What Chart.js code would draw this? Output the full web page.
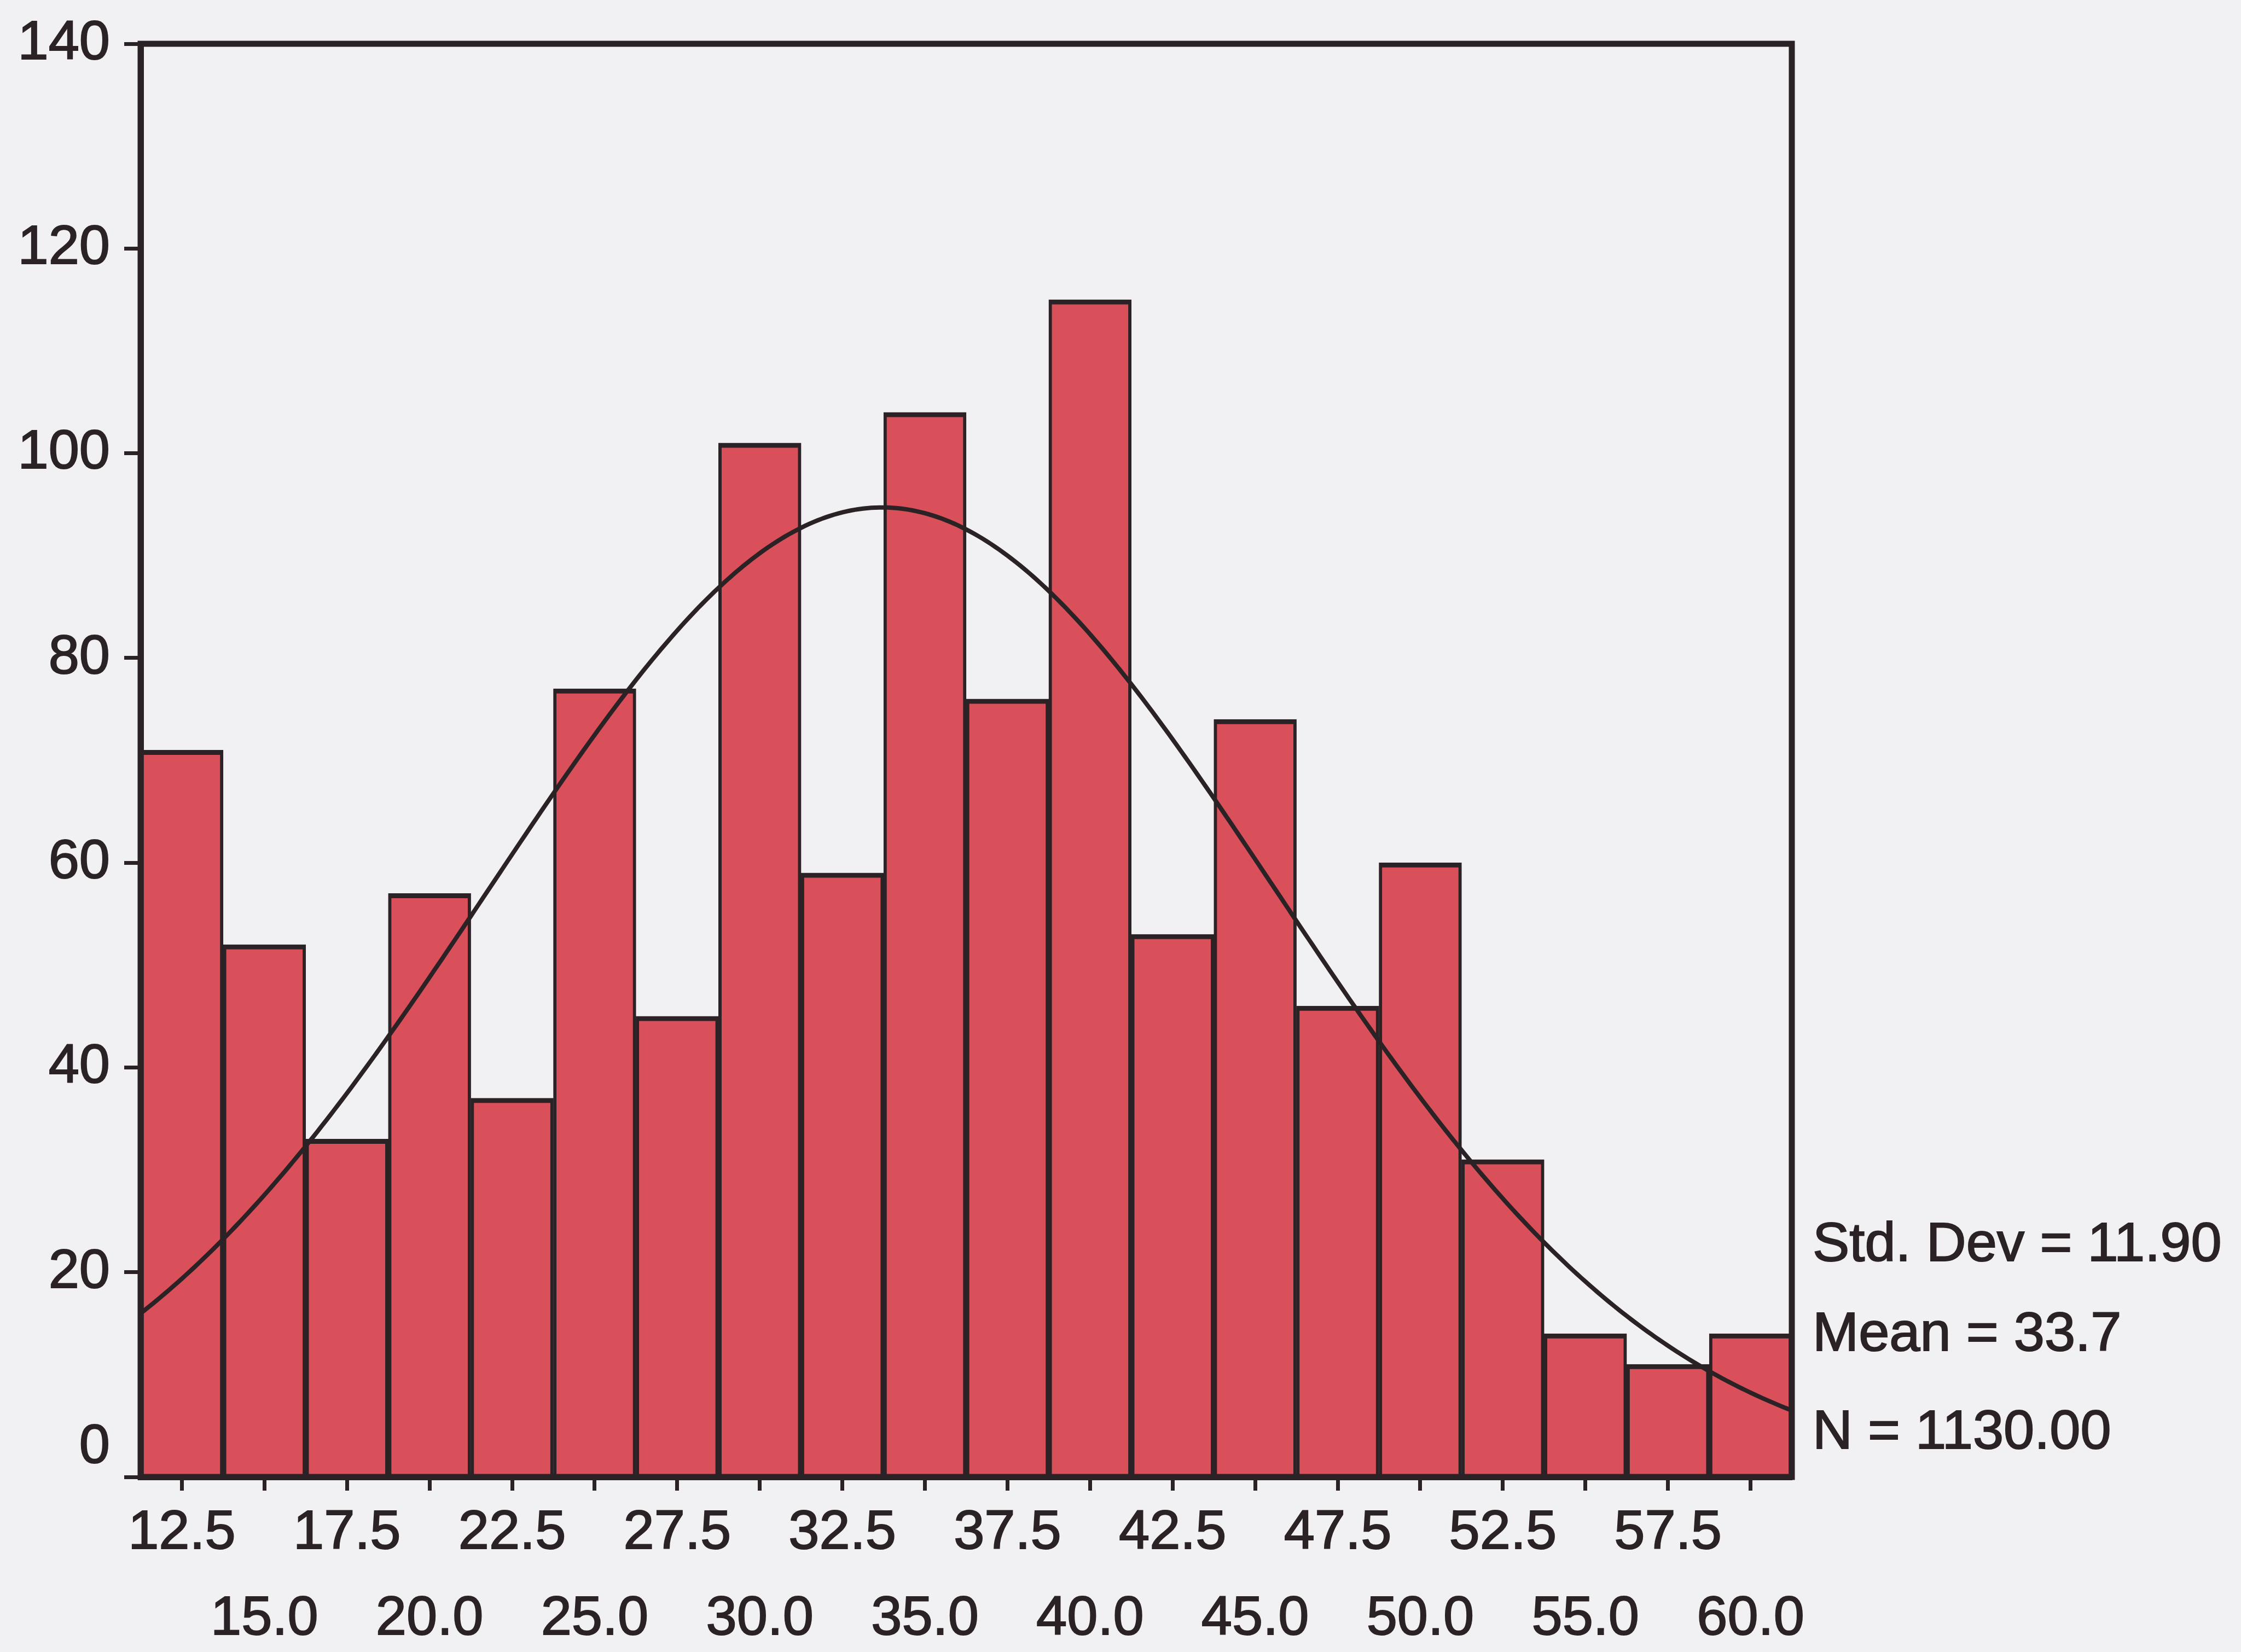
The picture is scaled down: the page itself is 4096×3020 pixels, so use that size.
<!DOCTYPE html>
<html>
<head>
<meta charset="utf-8">
<title>Histogram</title>
<script src="https://cdn.jsdelivr.net/npm/chart.js@4/dist/chart.umd.min.js"></script>
<style>
  html, body { margin: 0; padding: 0; background: #f1f1f3; }
  #wrap { width: 4096px; height: 3020px; }
  canvas { display: block; }
</style>
</head>
<body>
<div id="wrap"><canvas id="hist" width="4096" height="3020"></canvas></div>
<script>
// Bin midpoints (bin width 2.5) and the count in each bin
const binCenters = ['12.5', '15.0', '17.5', '20.0', '22.5', '25.0', '27.5', '30.0', '32.5', '35.0',
                    '37.5', '40.0', '42.5', '45.0', '47.5', '50.0', '52.5', '55.0', '57.5', '60.0'];
const counts = [71, 52, 33, 57, 37, 77, 45, 101, 59, 104, 76, 115, 53, 74, 46, 60, 31, 14, 11, 14];

// Summary statistics printed beside the plot
const stdDev = 11.90;
const mean = 33.7;
const nCases = 1130;
const binWidth = 2.5;

// Count axis
const yMin = 0;
const yMax = 140;
const yStep = 20;

// Value range covered by the bins
const xLow = parseFloat(binCenters[0]) - binWidth / 2;
const xHigh = parseFloat(binCenters[binCenters.length - 1]) + binWidth / 2;

// Fitted normal curve, scaled to counts per bin
const normalCurve = [];
for (let x = xLow; x <= xHigh + 1e-9; x += 0.125) {
  const z = (x - mean) / stdDev;
  const y = nCases * binWidth / (stdDev * Math.sqrt(2 * Math.PI)) * Math.exp(-0.5 * z * z);
  normalCurve.push({ x: x, y: y });
}

// Alternate bin labels between two rows
const staggeredLabels = binCenters.map((c, i) => (i % 2 === 0 ? [c, ''] : ['', c]));

const INK = '#2b2225';
const BAR_FILL = '#d9505b';
const PAGE = '#f1f1f3';
const FONT = '"Liberation Sans", Arial, sans-serif';
const FONT_SIZE = 101;
const FRAME_W = 11;

const pageBackground = {
  id: 'pageBackground',
  beforeDraw(chart) {
    const ctx = chart.ctx;
    ctx.save();
    ctx.fillStyle = PAGE;
    ctx.fillRect(0, 0, chart.width, chart.height);
    ctx.restore();
  }
};

const plotFrame = {
  id: 'plotFrame',
  afterDatasetsDraw(chart) {
    const { ctx, chartArea: a } = chart;
    ctx.save();
    ctx.strokeStyle = INK;
    ctx.lineWidth = FRAME_W;
    ctx.lineJoin = 'miter';
    ctx.strokeRect(a.left, a.top, a.right - a.left, a.bottom - a.top);
    ctx.restore();
  }
};

const statsBlock = {
  id: 'statsBlock',
  afterDraw(chart) {
    const { ctx, chartArea: a } = chart;
    const lines = [
      { text: 'Std. Dev = ' + stdDev.toFixed(2), dy: -395 },
      { text: 'Mean = ' + mean.toFixed(1), dy: -231 },
      { text: 'N = ' + nCases.toFixed(2), dy: -52 }
    ];
    ctx.save();
    ctx.fillStyle = INK;
    ctx.strokeStyle = INK;
    ctx.lineWidth = 2;
    ctx.font = FONT_SIZE + 'px ' + FONT;
    ctx.textAlign = 'left';
    ctx.textBaseline = 'alphabetic';
    lines.forEach(l => {
      ctx.fillText(l.text, a.right + 38, a.bottom + l.dy);
      ctx.strokeText(l.text, a.right + 38, a.bottom + l.dy);
    });
    ctx.restore();
  }
};

Chart.defaults.font.family = FONT;
Chart.defaults.color = INK;

new Chart(document.getElementById('hist'), {
  type: 'bar',
  data: {
    labels: staggeredLabels,
    datasets: [
      {
        type: 'bar',
        data: counts,
        xAxisID: 'x',
        yAxisID: 'y',
        backgroundColor: BAR_FILL,
        borderColor: INK,
        borderWidth: { top: 9, left: 6, right: 6, bottom: 0 },
        borderSkipped: 'start',
        barPercentage: 1,
        categoryPercentage: 1,
        grouped: false,
        order: 1
      },
      {
        type: 'line',
        data: normalCurve,
        xAxisID: 'xc',
        yAxisID: 'y',
        borderColor: INK,
        borderWidth: 8,
        pointRadius: 0,
        tension: 0,
        fill: false,
        order: 0
      }
    ]
  },
  options: {
    responsive: false,
    animation: false,
    devicePixelRatio: 1,
    layout: { padding: { left: 0, top: 69, right: 821, bottom: 0 } },
    plugins: {
      legend: { display: false },
      tooltip: { enabled: false },
      title: { display: false }
    },
    scales: {
      x: {
        type: 'category',
        position: 'bottom',
        offset: true,
        afterFit(scale) { scale.height = 320; },
        grid: {
          display: true,
          drawOnChartArea: false,
          drawTicks: true,
          offset: false,
          tickLength: 25,
          tickWidth: 7,
          tickColor: INK
        },
        border: { display: true, color: INK, width: FRAME_W },
        ticks: {
          autoSkip: false,
          maxRotation: 0,
          minRotation: 0,
          padding: 0,
          color: INK,
          textStrokeColor: INK,
          textStrokeWidth: 2,
          font: { size: FONT_SIZE, lineHeight: 1.55 }
        }
      },
      xc: {
        type: 'linear',
        position: 'bottom',
        display: false,
        offset: false,
        bounds: 'ticks',
        min: xLow,
        max: xHigh
      },
      y: {
        type: 'linear',
        position: 'left',
        min: yMin,
        max: yMax,
        afterFit(scale) { scale.width = 257; },
        grid: {
          display: true,
          drawOnChartArea: false,
          drawTicks: true,
          tickLength: 30,
          tickWidth: 7,
          tickColor: INK
        },
        border: { display: true, color: INK, width: FRAME_W },
        ticks: {
          stepSize: yStep,
          padding: 26,
          color: INK,
          textStrokeColor: INK,
          textStrokeWidth: 2,
          font: { size: FONT_SIZE, lineHeight: 1.07 },
          // the zero label sits raised above the baseline
          callback: (v) => (v === 0 ? ['0', ''] : String(v))
        }
      }
    }
  },
  plugins: [pageBackground, plotFrame, statsBlock]
});
</script>
</body>
</html>
